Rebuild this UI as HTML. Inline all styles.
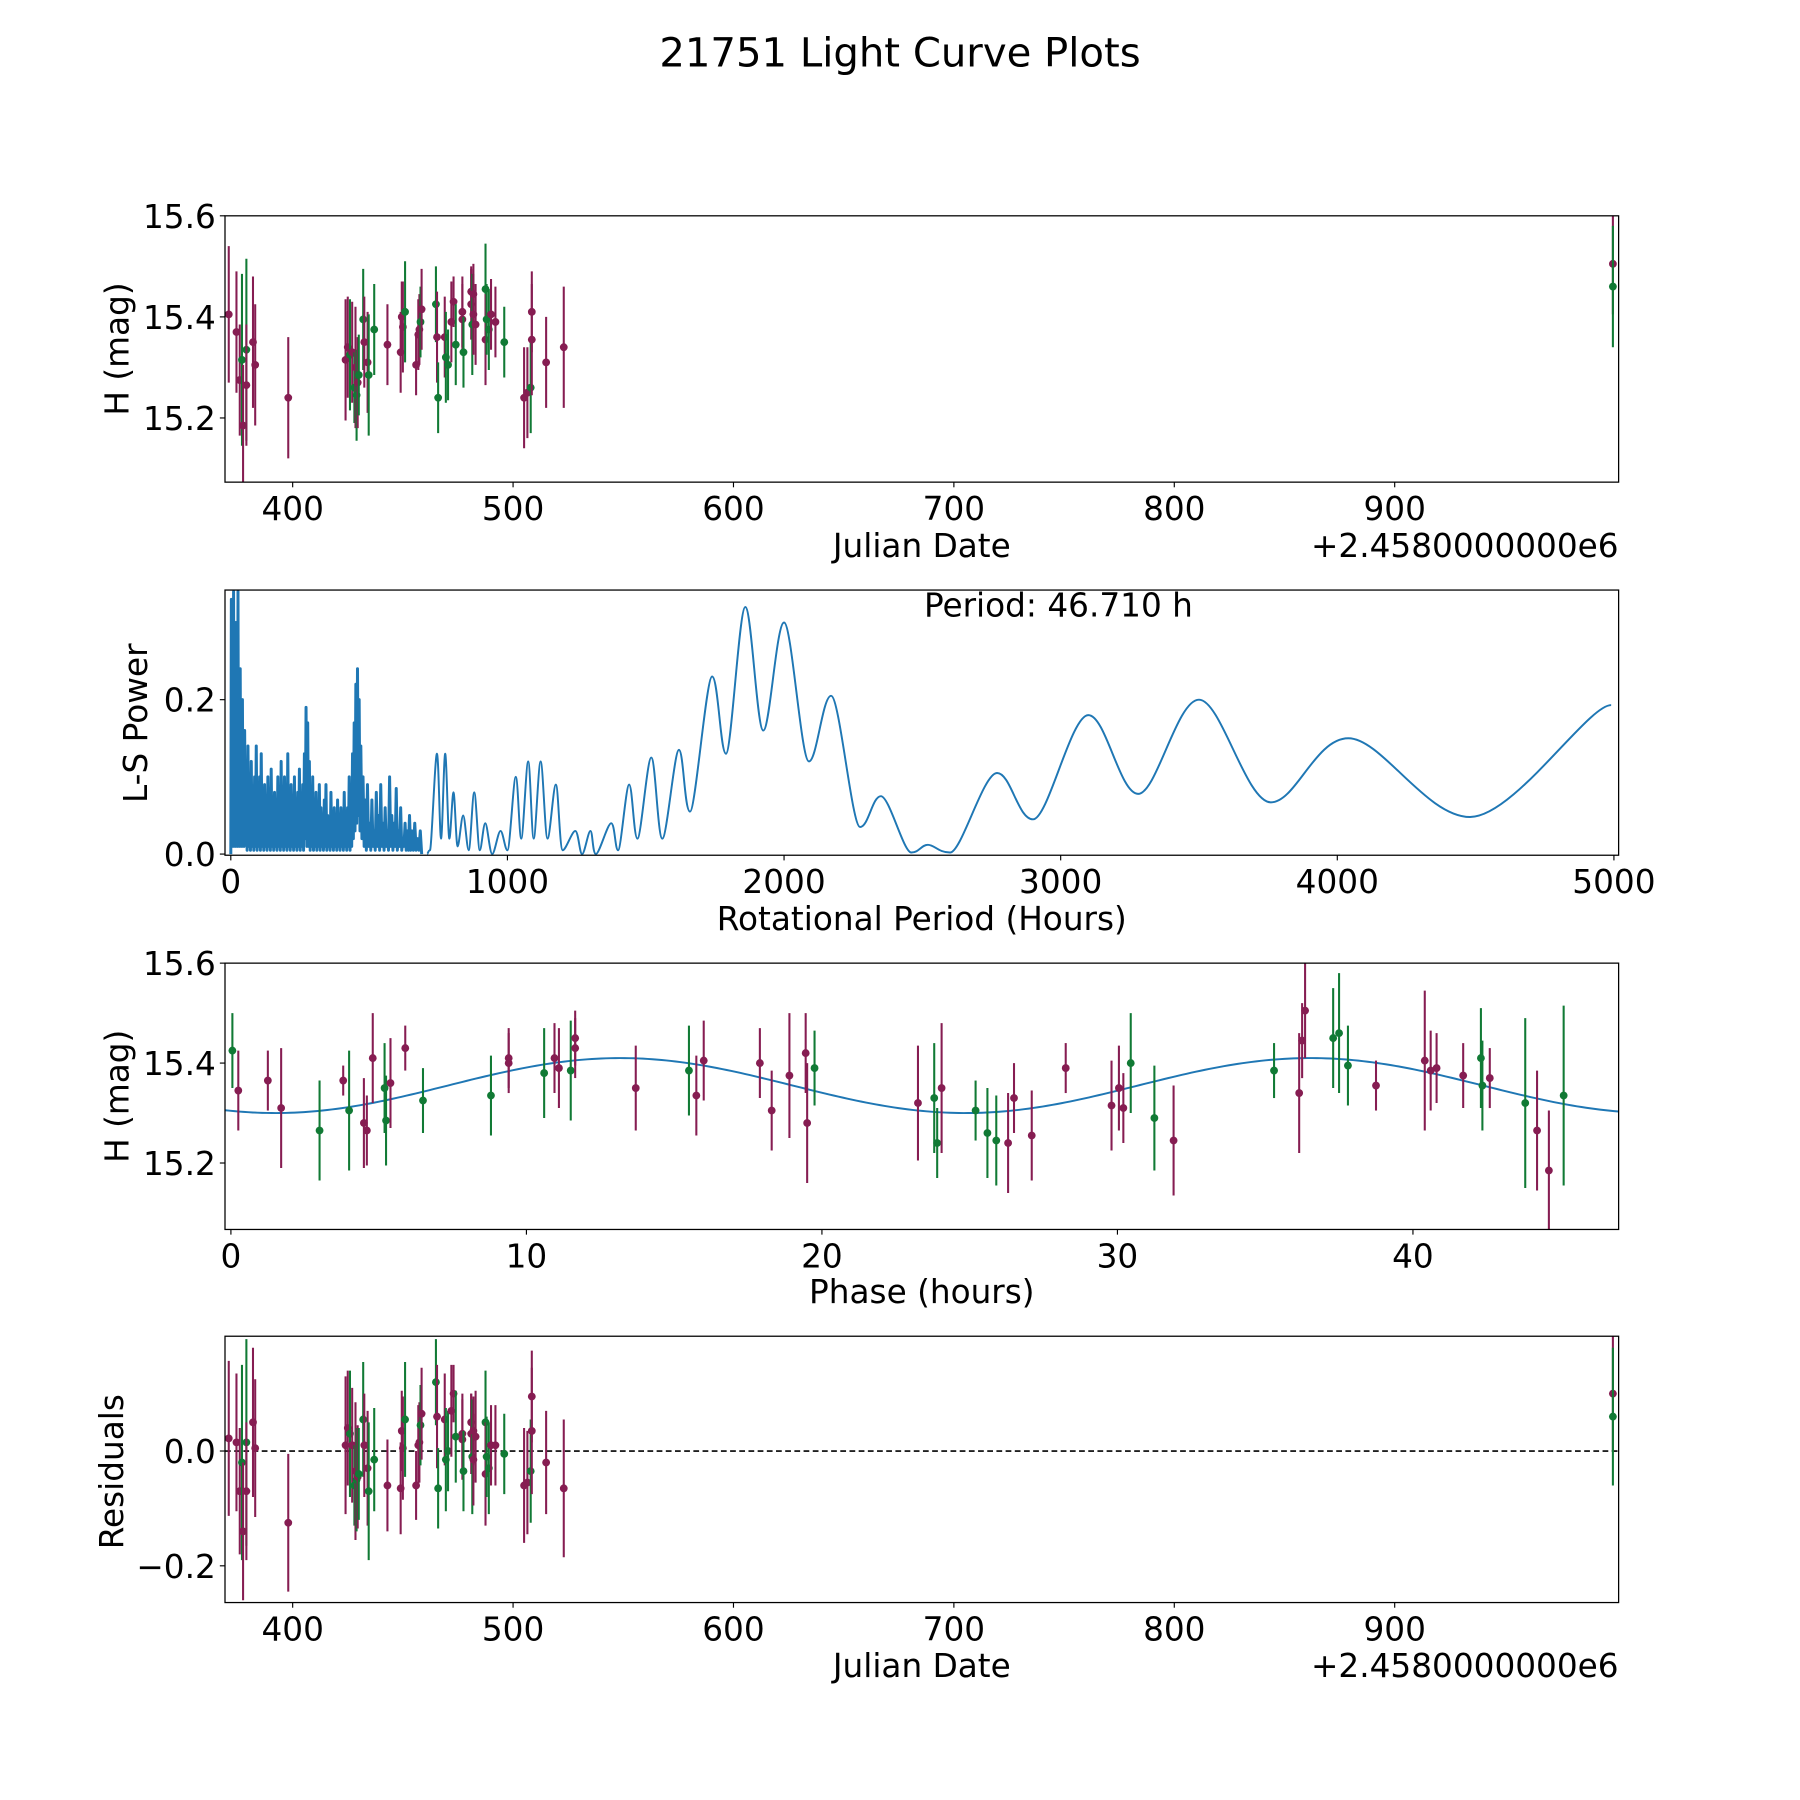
<!DOCTYPE html>
<html><head><meta charset="utf-8">
<style>
html,body{margin:0;padding:0;background:#fff;}
svg{display:block;font-family:"DejaVu Sans","Liberation Sans",sans-serif;}
</style></head>
<body>
<svg id="fig" width="1800" height="1800" viewBox="0 0 1568 1568" xmlns="http://www.w3.org/2000/svg">
<rect width="1568" height="1568" fill="#fff"/>
<text x="784" y="58" font-size="35" text-anchor="middle">21751 Light Curve Plots</text>
<defs>
<clipPath id="c0"><rect x="196" y="188" width="1214" height="232"/></clipPath>
<clipPath id="c1"><rect x="196" y="514" width="1214" height="231"/></clipPath>
<clipPath id="c2"><rect x="196" y="839" width="1214" height="232"/></clipPath>
<clipPath id="c3"><rect x="196" y="1164" width="1214" height="232"/></clipPath>
</defs>
<g id="layer"></g>
</svg>
<script>
// ---- Data: panel 1 (Julian date offset, magnitude, error, filter) ----
const jdDates = [371,374.5,376,377,377.5,379,379,382,383,398,424,425,426,427,428,428.5,429,429.5,430,432,432.5,434,434.5,437,443,449,449.5,450,451,456,457,457.5,458,458.5,465,465.5,466,469,469.5,470.5,472,473,474,477,477,477.5,481,481,481.5,482,482,483,487.5,487.5,488,489,490,492,496,505,506.5,508,508.5,508.5,515,523,999,999];
const jdMags = [15.405,15.37,15.275,15.315,15.185,15.335,15.265,15.35,15.305,15.24,15.315,15.34,15.325,15.33,15.26,15.30,15.245,15.27,15.285,15.395,15.35,15.31,15.285,15.375,15.345,15.33,15.40,15.38,15.41,15.305,15.365,15.375,15.39,15.415,15.425,15.36,15.24,15.36,15.32,15.305,15.39,15.43,15.345,15.41,15.395,15.33,15.45,15.425,15.385,15.445,15.405,15.385,15.455,15.355,15.395,15.375,15.405,15.39,15.35,15.24,15.25,15.26,15.41,15.355,15.31,15.34,15.505,15.46];
const jdErrs = [0.135,0.12,0.11,0.17,0.12,0.18,0.12,0.13,0.12,0.12,0.12,0.10,0.11,0.10,0.07,0.12,0.09,0.09,0.08,0.10,0.09,0.10,0.12,0.09,0.08,0.08,0.07,0.09,0.10,0.06,0.07,0.07,0.07,0.08,0.075,0.09,0.07,0.08,0.09,0.07,0.08,0.05,0.08,0.07,0.07,0.07,0.05,0.07,0.10,0.06,0.08,0.08,0.09,0.09,0.07,0.08,0.07,0.07,0.07,0.10,0.09,0.09,0.08,0.11,0.09,0.12,0.10,0.12];
const jdFilter = "MMMGMGMMMMMMGMGMGMGGMMGGMMMMGMMMGMGMGMGGMMGMMGMMGMMMGMGGMMGMMGMMMMMG";
// residuals
const resVals = [0.022,0.015,-0.07,-0.02,-0.14,0.015,-0.07,0.05,0.005,-0.125,0.01,0.04,0.03,0.01,-0.06,-0.035,-0.05,-0.045,-0.04,0.055,0.01,-0.03,-0.07,-0.015,-0.06,-0.065,0.035,0.005,0.055,-0.06,0.01,0.015,0.045,0.065,0.12,0.06,-0.065,0.055,-0.015,0.0,0.07,0.10,0.025,0.03,0.02,-0.035,0.05,0.03,-0.01,0.035,-0.015,0.025,0.05,-0.04,-0.01,-0.03,0.01,0.01,-0.005,-0.06,-0.055,-0.035,0.095,0.035,-0.02,-0.065,0.10,0.06];
// ---- Data: phase-folded ----
const phaseHours = [0.05,0.25,1.25,1.7,3.0,3.8,4.0,4.5,4.6,4.8,5.2,5.25,5.4,5.9,6.5,8.8,9.4,9.4,10.6,10.95,11.1,11.5,11.65,11.65,13.7,15.5,15.75,16.0,17.9,18.3,18.9,19.45,19.5,19.75,23.25,23.8,23.9,24.05,25.2,25.6,25.9,26.3,26.5,27.1,28.25,29.8,30.05,30.2,30.45,31.25,31.9,35.3,36.15,36.25,36.35,37.3,37.5,37.8,38.75,40.4,40.6,40.8,41.7,42.3,42.35,42.6,43.8,44.2,44.6,45.1];
const phaseMags = [15.425,15.345,15.365,15.31,15.265,15.365,15.305,15.28,15.265,15.41,15.35,15.285,15.36,15.43,15.325,15.335,15.41,15.40,15.38,15.41,15.39,15.385,15.45,15.43,15.35,15.385,15.335,15.405,15.40,15.305,15.375,15.42,15.28,15.39,15.32,15.33,15.24,15.35,15.305,15.26,15.245,15.24,15.33,15.255,15.39,15.315,15.35,15.31,15.40,15.29,15.245,15.385,15.34,15.445,15.505,15.45,15.46,15.395,15.355,15.405,15.385,15.39,15.375,15.41,15.355,15.37,15.32,15.265,15.185,15.335];
const phaseErrs = [0.075,0.08,0.06,0.12,0.10,0.03,0.12,0.09,0.07,0.09,0.09,0.09,0.09,0.045,0.065,0.08,0.06,0.06,0.09,0.07,0.08,0.10,0.055,0.06,0.085,0.09,0.08,0.08,0.07,0.08,0.125,0.08,0.12,0.075,0.115,0.11,0.07,0.13,0.06,0.09,0.09,0.10,0.07,0.09,0.05,0.09,0.085,0.07,0.10,0.105,0.11,0.055,0.12,0.075,0.095,0.10,0.12,0.08,0.05,0.14,0.08,0.07,0.065,0.10,0.09,0.06,0.17,0.12,0.12,0.18];
const phaseFilter = "GMMMGMGMMMGGMMGGMMGMMGMMMGMMMMMMMGMGGMGGGMMMMMMMGGMGMMMGGGMMMMMGGMGMMG";
// fitted sinusoid parameters: mean mag, amplitude, phase of minimum (h), half-period (h)
const fitParams = [15.355, 0.055, 1.5, 23.355];
// ---- Data: periodogram ----
const densePeriods = [2,4,6,8,10,12,14,16,18,20,22,24,26,28,30,32,34,36,38,40,42,44,46,48,50,53,56,59,62,65,68,71,74,77,80,83,86,89,92,95,98,101,104,107,110,113,116,119,122,125,128,131,134,137,140,143,146,149,152,155,158,161,164,167,170,173,176,179,182,185,188,191,194,197,200,203,206,209,212,215,218,221,224,227,230,233,236,239,242,245,248,251,254,257,260,263,266,269,272,275,278,281,284,287,290,293,296,299,302,305,308,311,314,317,320,323,326,329,332,335,338,341,344,347,350,353,356,359,362,365,368,371,374,377,380,383,386,389,392,395,398,401,404,407,410,413,416,419,422,425,428,431,434,437,440,443,446,449,452,455,458,461,464,467,470,474,478,482,486,490,494,498,502,506,510,514,518,522,526,530,534,538,542,546,550,554,558,562,566,570,574,578,582,586,590,594,598,602,606,610,614,618,622,626,630,634,638,642,646,650,655,660,665,670,675,680,685,690,695,700,705,710];
const densePower = [0.33,0.02,0.25,0.01,0.34,0.03,0.20,0.01,0.30,0.02,0.28,0.01,0.34,0.02,0.22,0.01,0.24,0.03,0.16,0.01,0.20,0.02,0.15,0.01,0.16,0.02,0.12,0.005,0.14,0.01,0.10,0.005,0.12,0.01,0.08,0.005,0.10,0.01,0.14,0.005,0.06,0.01,0.10,0.005,0.13,0.01,0.07,0.005,0.09,0.01,0.05,0.005,0.10,0.01,0.06,0.005,0.11,0.01,0.05,0.005,0.08,0.01,0.04,0.005,0.10,0.01,0.05,0.005,0.12,0.01,0.06,0.005,0.10,0.01,0.05,0.005,0.13,0.01,0.06,0.005,0.09,0.01,0.05,0.005,0.10,0.01,0.06,0.005,0.08,0.01,0.11,0.005,0.07,0.01,0.09,0.005,0.13,0.02,0.19,0.01,0.17,0.01,0.12,0.005,0.08,0.01,0.10,0.005,0.06,0.01,0.08,0.005,0.05,0.01,0.09,0.005,0.06,0.01,0.04,0.005,0.07,0.01,0.09,0.005,0.05,0.01,0.03,0.005,0.08,0.01,0.04,0.005,0.06,0.01,0.05,0.005,0.07,0.01,0.04,0.005,0.06,0.01,0.05,0.005,0.08,0.01,0.04,0.005,0.06,0.01,0.10,0.005,0.08,0.01,0.13,0.02,0.17,0.03,0.22,0.04,0.24,0.05,0.20,0.03,0.14,0.02,0.10,0.01,0.07,0.005,0.09,0.01,0.04,0.005,0.07,0.01,0.03,0.005,0.08,0.01,0.05,0.005,0.09,0.01,0.04,0.005,0.06,0.01,0.03,0.005,0.10,0.01,0.05,0.005,0.04,0.01,0.085,0.005,0.03,0.01,0.06,0.005,0.02,0.01,0.04,0.005,0.03,0.005,0.05,0.005,0.03,0.005,0.04,0.005,0.02,0.005,0.03,0.0];
const smoothPeriods = [710,720,745,760,775,790,805,820,840,860,880,900,920,945,975,1000,1030,1050,1075,1095,1120,1145,1175,1200,1245,1270,1300,1320,1375,1400,1440,1470,1520,1560,1620,1660,1740,1790,1860,1925,2000,2090,2170,2275,2350,2460,2520,2600,2770,2900,3100,3280,3500,3760,4040,4480,4990];
const smoothPower = [0.0,0.005,0.13,0.02,0.13,0.02,0.08,0.01,0.05,0.005,0.08,0.005,0.04,0.0,0.03,0.005,0.10,0.02,0.12,0.02,0.12,0.02,0.09,0.005,0.03,0.0,0.03,0.0,0.04,0.005,0.09,0.02,0.125,0.02,0.135,0.055,0.23,0.13,0.32,0.16,0.30,0.12,0.205,0.035,0.075,0.002,0.012,0.002,0.105,0.045,0.18,0.078,0.20,0.067,0.15,0.048,0.193];
// ---- Ticks ----
const jdTicks = [400,500,600,700,800,900];
const magTicks = [15.2,15.4,15.6];
const powTicks = [0.0,0.2];
const perTicks = [0,1000,2000,3000,4000,5000];
const phTicks = [0,10,20,30,40];
const resTicks = [-0.2,0.0];

const NS="http://www.w3.org/2000/svg";
const layer=document.getElementById('layer');
const L=196,R=1410;
const FS=28.5;
const panels=[{t:188,b:420},{t:514,b:745},{t:839,b:1071},{t:1164,b:1396}];
function lin(d0,d1,r0,r1){return v=>r0+(v-d0)*(r1-r0)/(d1-d0);}
const xJD=lin(369.3,1001.6,L,R);
const yMag1=lin(15.6,15.073,188,420);
const xPer=lin(-21,5017,L,R);
const yPow=lin(0.342,-0.0015,514,745);
const xPh=lin(-0.2,46.96,L,R);
const yMag3=lin(15.6,15.067,839,1071);
const yRes=lin(0.2,-0.264,1164,1396);
const COL={M:'#861d52',G:'#117a35'};
function el(tag,attrs,parent){const e=document.createElementNS(NS,tag);for(const k in attrs)e.setAttribute(k,attrs[k]);(parent||layer).appendChild(e);return e;}
function txt(s,x,y,size,anchor,parent){const t=el('text',{x:x,y:y,'font-size':size,'text-anchor':anchor||'middle'},parent);t.textContent=s;return t;}

function frame(i,name){
  const p=panels[i];
  const r=el('rect',{x:L,y:p.t,width:R-L,height:p.b-p.t,fill:'none',stroke:'#000','stroke-width':1.1});
  
  
}
function xticks(i,ticks,sx,fmt,name){
  const p=panels[i];
  const g=el('g',{});
  
  
  ticks.forEach(v=>{const x=sx(v);el('line',{x1:x,x2:x,y1:p.b,y2:p.b+4.5,stroke:'#000','stroke-width':1},g);txt(fmt(v),x,p.b+33,FS,'middle',g);});
}
function yticks(i,ticks,sy,fmt,name){
  const g=el('g',{});
  
  
  ticks.forEach(v=>{const y=sy(v);el('line',{x1:L-4.5,x2:L,y1:y,y2:y,stroke:'#000','stroke-width':1},g);txt(fmt(v),L-8,y+10.5,FS,'end',g);});
}
function ylabel(s,y,name,x){const t=txt(s,x,y,FS,'middle');t.setAttribute('transform','rotate(-90 '+x+' '+y+')');}
function label(s,x,y,anchor,name){const t=txt(s,x,y,FS,anchor);}
const f1=v=>v.toFixed(1);
const fRes=v=>(v<0?'\u22120.2':'0.0');

function errorbars(clip,xs,ys,es,filt,sx,sy,name){
  const g=el('g',{'clip-path':'url(#'+clip+')'});
  
  
  for(let i=0;i<xs.length;i++){
    const c=COL[filt[i]];const x=sx(xs[i]);
    const ln=el('line',{x1:x,x2:x,y1:sy(ys[i]-es[i]),y2:sy(ys[i]+es[i]),stroke:c,'stroke-width':1.8},g);
    
    
    const d=el('circle',{cx:x,cy:sy(ys[i]),r:3.4,fill:c},g);
    
    
  }
}

// Panel 1
errorbars('c0',jdDates,jdMags,jdErrs,jdFilter,xJD,yMag1,'magnitude-vs-date-points');
frame(0,'lightcurve-axes');
xticks(0,jdTicks,xJD,v=>String(v),'jd-x-ticks');
yticks(0,magTicks,yMag1,f1,'mag-y-ticks');
label('Julian Date',803,485,'middle','jd-x-axis-title');
label('+2.4580000000e6',1410,485,'end','jd-offset-label');
ylabel('H (mag)',304,'mag-y-axis-title',112);

// Panel 2 periodogram
(function(){
  const g=el('g',{'clip-path':'url(#c1)'});
  let d='M'+xPer(0)+','+yPow(0.0);
  for(let i=0;i<densePeriods.length;i++){d+='L'+xPer(densePeriods[i]).toFixed(2)+','+yPow(densePower[i]).toFixed(2);}
  const pd=el('path',{d:d,fill:'none',stroke:'#1f77b4','stroke-width':2.6,'stroke-linejoin':'round'},g);
  
  
  const pts=smoothPeriods.map((p,i)=>[xPer(p),yPow(smoothPower[i])]);
  let s='M'+pts[0][0]+','+pts[0][1];
  for(let i=0;i<pts.length-1;i++){
    const p0=pts[Math.max(0,i-1)],p1=pts[i],p2=pts[i+1],p3=pts[Math.min(pts.length-1,i+2)];
    const c1x=p1[0]+(p2[0]-p0[0])/6,c2x=p2[0]-(p3[0]-p1[0])/6;
    s+='C'+c1x.toFixed(2)+','+p1[1].toFixed(2)+' '+c2x.toFixed(2)+','+p2[1].toFixed(2)+' '+p2[0].toFixed(2)+','+p2[1].toFixed(2);
  }
  const ps=el('path',{d:s,fill:'none',stroke:'#1f77b4','stroke-width':1.7},g);
  
  
})();
frame(1,'periodogram-axes');
xticks(1,perTicks,xPer,v=>String(v),'period-x-ticks');
yticks(1,powTicks,yPow,f1,'power-y-ticks');
label('Rotational Period (Hours)',803,810,'middle','period-x-axis-title');
ylabel('L-S Power',630,'power-y-axis-title',128);
label('Period: 46.710 h',922,537,'middle','period-annotation');

// Panel 3 phase
(function(){
  const g=el('g',{'clip-path':'url(#c2)'});
  let d='';
  for(let k=0;k<=300;k++){const ph=-0.2+47.16*k/300;const m=fitParams[0]-fitParams[1]*Math.cos(2*Math.PI*(ph-fitParams[2])/fitParams[3]);d+=(k?'L':'M')+xPh(ph).toFixed(2)+','+yMag3(m).toFixed(2);}
  const p=el('path',{d:d,fill:'none',stroke:'#1f77b4','stroke-width':1.7},g);
  
  
})();
errorbars('c2',phaseHours,phaseMags,phaseErrs,phaseFilter,xPh,yMag3,'phase-folded-points');
frame(2,'phase-axes');
xticks(2,phTicks,xPh,v=>String(v),'phase-x-ticks');
yticks(2,magTicks,yMag3,f1,'phase-mag-y-ticks');
label('Phase (hours)',803,1135,'middle','phase-x-axis-title');
ylabel('H (mag)',955,'phase-mag-y-axis-title',112);

// Panel 4 residuals
(function(){
  const y=yRes(0);
  const z=el('line',{x1:L,x2:R,y1:y,y2:y,stroke:'#000','stroke-width':1.4,'stroke-dasharray':'5,3'});
  
  
})();
errorbars('c3',jdDates,resVals,jdErrs,jdFilter,xJD,yRes,'residual-points');
frame(3,'residuals-axes');
xticks(3,jdTicks,xJD,v=>String(v),'res-x-ticks');
yticks(3,resTicks,yRes,fRes,'res-y-ticks');
label('Julian Date',803,1461,'middle','res-x-axis-title');
label('+2.4580000000e6',1410,1461,'end','res-offset-label');
ylabel('Residuals',1282,'res-y-axis-title',107);
</script>
</body></html>
